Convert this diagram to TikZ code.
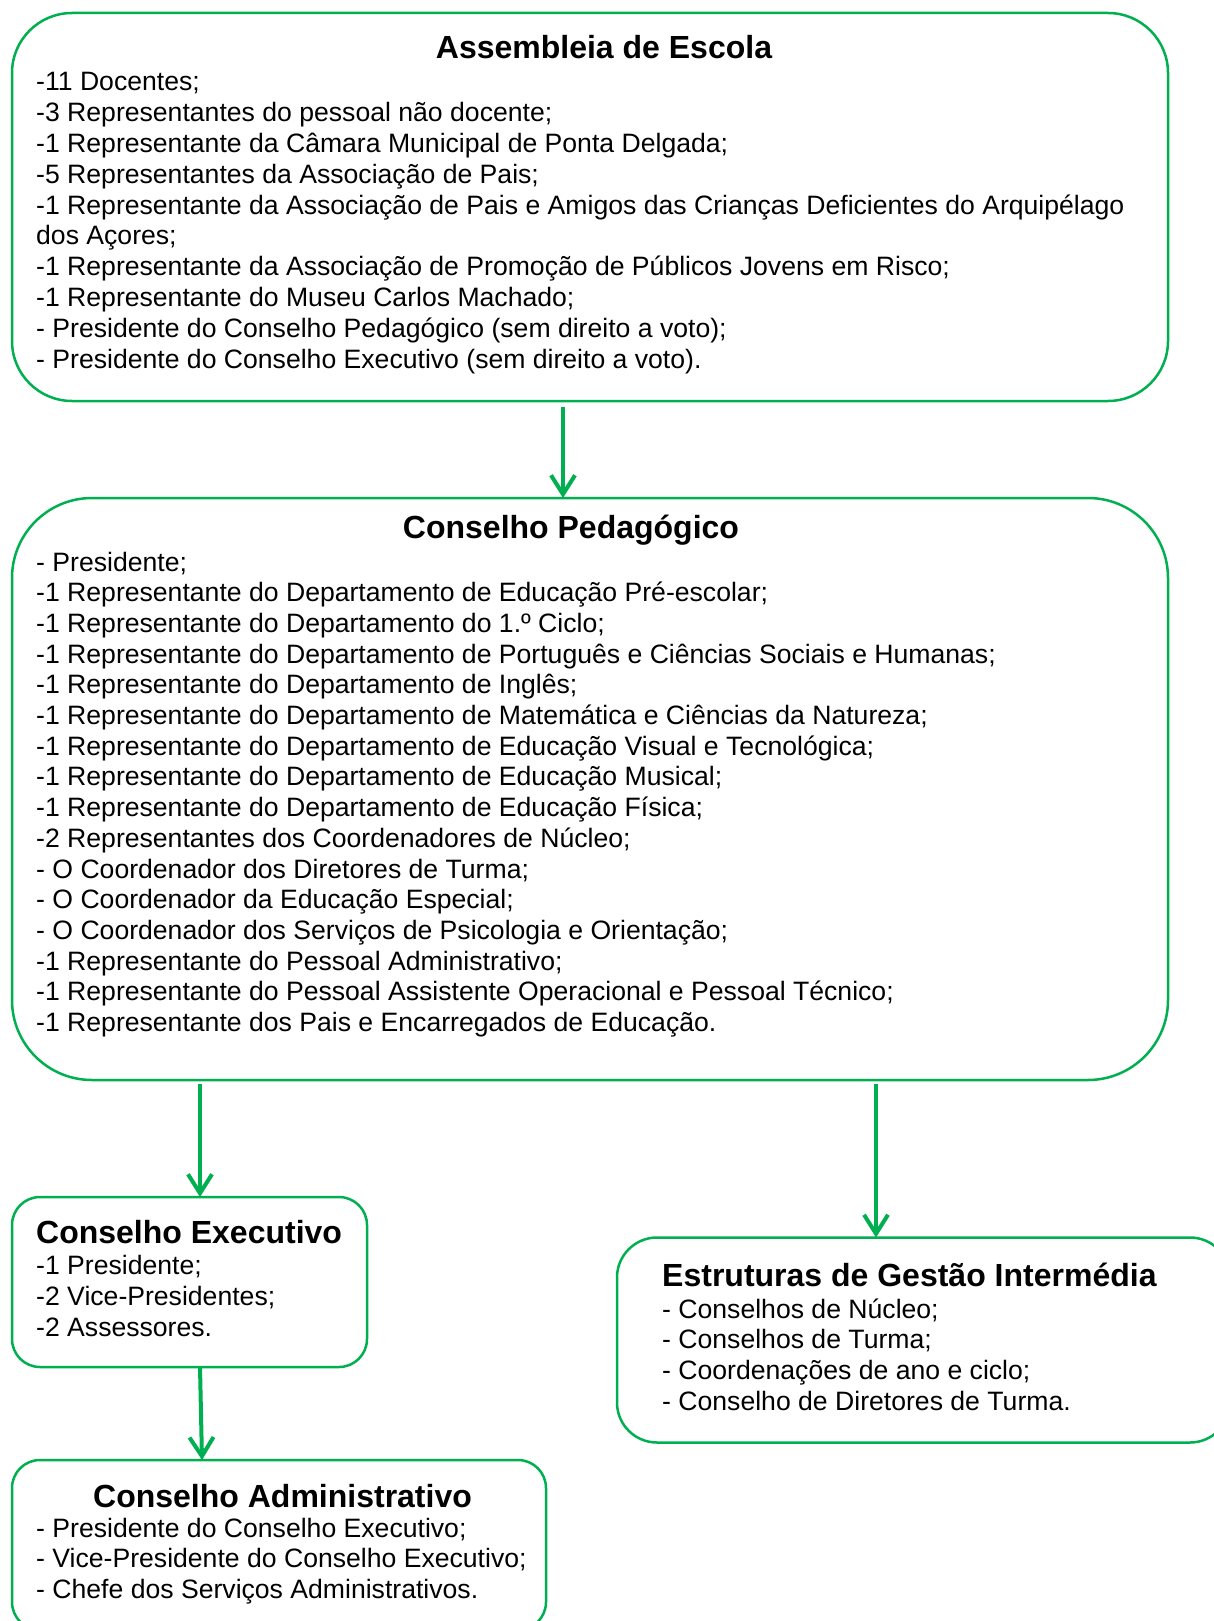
\documentclass[tikz,border=0pt]{standalone}
\usepackage{fontspec}
\setmainfont{Liberation Sans}
\usetikzlibrary{arrows.meta}
\definecolor{verde}{HTML}{00B050}

\begin{document}
\begin{tikzpicture}[x=1pt, y=-1pt,
    caixa/.style={draw=verde, line width=2.5pt, rectangle, inner sep=0pt, outer sep=0pt},
    seta/.style={draw=verde, line width=4pt, -{Straight Barb[length=19pt,width=24pt]}},
    titulo/.style={inner sep=0pt, font=\fontsize{32}{36}\selectfont\bfseries},
    linha/.style={anchor=base west, inner sep=0pt, font=\fontsize{26.6}{30.7}\selectfont}]

    \clip (0,0) rectangle (1214,1621);

    % caixas
    \node[caixa, minimum width=1156pt, minimum height=388pt, rounded corners=60pt] (asm) at (590,207) {};
    \node[caixa, minimum width=1156pt, minimum height=582pt, rounded corners=80pt] (ped) at (590,789) {};
    \node[caixa, minimum width=355pt, minimum height=170pt, rounded corners=28pt] (exe) at (189.5,1282) {};
    \node[caixa, minimum width=613pt, minimum height=205pt, rounded corners=40pt] (est) at (923.5,1340) {};
    \node[caixa, minimum width=534pt, minimum height=170pt, rounded corners=28pt] (adm) at (279,1545) {};

    % Assembleia de Escola
    \node[titulo, anchor=base] (asm-t) at (604,59) {Assembleia de Escola};
    \foreach \t [count=\i from 0] in {{-11 Docentes;},
        {-3 Representantes do pessoal não docente;},
        {-1 Representante da Câmara Municipal de Ponta Delgada;},
        {-5 Representantes da Associação de Pais;},
        {-1 Representante da Associação de Pais e Amigos das Crianças Deficientes do Arquipélago},
        {dos Açores;},
        {-1 Representante da Associação de Promoção de Públicos Jovens em Risco;},
        {-1 Representante do Museu Carlos Machado;},
        {- Presidente do Conselho Pedagógico (sem direito a voto);},
        {- Presidente do Conselho Executivo (sem direito a voto).}}
        \node[linha] (asm-\i) at (36,{91+30.8*\i}) {\t};

    % Conselho Pedagogico
    \node[titulo, anchor=base] (ped-t) at (571,538) {Conselho Pedagógico};
    \foreach \t [count=\i from 0] in {{- Presidente;},
        {-1 Representante do Departamento de Educação Pré-escolar;},
        {-1 Representante do Departamento do 1.º Ciclo;},
        {-1 Representante do Departamento de Português e Ciências Sociais e Humanas;},
        {-1 Representante do Departamento de Inglês;},
        {-1 Representante do Departamento de Matemática e Ciências da Natureza;},
        {-1 Representante do Departamento de Educação Visual e Tecnológica;},
        {-1 Representante do Departamento de Educação Musical;},
        {-1 Representante do Departamento de Educação Física;},
        {-2 Representantes dos Coordenadores de Núcleo;},
        {- O Coordenador dos Diretores de Turma;},
        {- O Coordenador da Educação Especial;},
        {- O Coordenador dos Serviços de Psicologia e Orientação;},
        {-1 Representante do Pessoal Administrativo;},
        {-1 Representante do Pessoal Assistente Operacional e Pessoal Técnico;},
        {-1 Representante dos Pais e Encarregados de Educação.}}
        \node[linha] (ped-\i) at (36,{571+30.7*\i}) {\t};

    % Conselho Executivo
    \node[titulo, anchor=base west] (exe-t) at (36,1243) {Conselho Executivo};
    \foreach \t [count=\i from 0] in {{-1 Presidente;}, {-2 Vice-Presidentes;}, {-2 Assessores.}}
        \node[linha] (exe-\i) at (36,{1274+31*\i}) {\t};

    % Estruturas de Gestao Intermedia
    \node[titulo, anchor=base west] (est-t) at (662,1286) {Estruturas de Gestão Intermédia};
    \foreach \t [count=\i from 0] in {{- Conselhos de Núcleo;}, {- Conselhos de Turma;},
        {- Coordenações de ano e ciclo;}, {- Conselho de Diretores de Turma.}}
        \node[linha] (est-\i) at (662,{1318+30.8*\i}) {\t};

    % Conselho Administrativo
    \node[titulo, anchor=base west] (adm-t) at (93,1507) {Conselho Administrativo};
    \foreach \t [count=\i from 0] in {{- Presidente do Conselho Executivo;},
        {- Vice-Presidente do Conselho Executivo;}, {- Chefe dos Serviços Administrativos.}}
        \node[linha] (adm-\i) at (36,{1537+30.7*\i}) {\t};

    % setas
    \draw[seta, shorten <=6pt] ([xshift=-27pt]asm.south) -- ([xshift=-27pt]asm.south |- ped.north);
    \draw[seta, shorten <=4pt] ([xshift=-390pt]ped.south) -- ([xshift=-390pt]ped.south |- exe.north);
    \draw[seta, shorten <=4pt] ([xshift=286pt]ped.south) -- ([xshift=286pt]ped.south |- est.north);
    \draw[seta] ([xshift=10.5pt]exe.south) -- ([xshift=-77pt]adm.north);

\end{tikzpicture}
\end{document}
